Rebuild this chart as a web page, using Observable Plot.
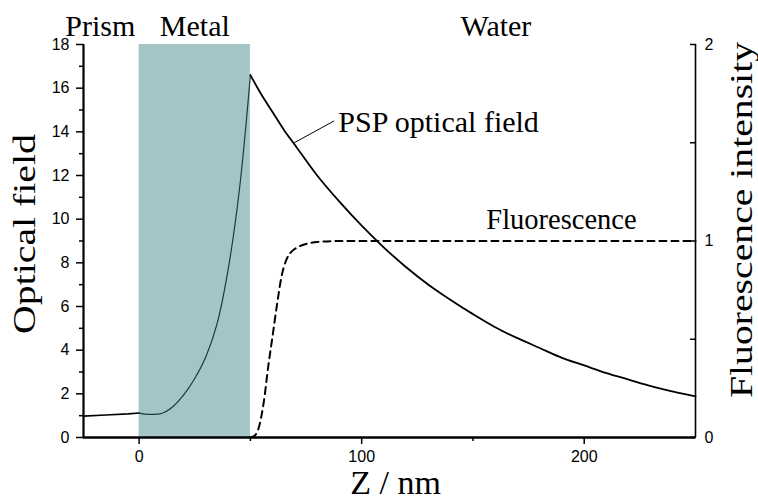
<!DOCTYPE html>
<html>
<head>
<meta charset="utf-8">
<script src="https://cdn.jsdelivr.net/npm/d3@7"></script>
<script src="https://cdn.jsdelivr.net/npm/@observablehq/plot@0.6"></script>
<style>
  html, body { margin: 0; padding: 0; background: #fff; }
  #chart svg { display: block; }
</style>
</head>
<body>
<div id="chart"></div>
<script>
// Optical field (left axis) vs distance Z (nm)
const fieldZ = [-25, -15, -5, 0, 3, 6, 10, 15, 20, 25, 30, 35, 40, 45, 50,
                55, 60, 65, 70, 80, 90, 100, 110, 120, 130, 140, 150, 160, 170, 180, 190, 200, 210, 220, 230, 240, 250];
const fieldV = [0.98, 1.03, 1.08, 1.12, 1.07, 1.06, 1.1, 1.4, 1.95, 2.7, 3.7, 5.2, 7.7, 11.3, 16.6,
                15.7, 14.9, 14.1, 13.4, 12.0, 10.8, 9.7, 8.7, 7.8, 7.0, 6.3, 5.65, 5.05, 4.55, 4.1, 3.65, 3.3, 2.95, 2.65, 2.35, 2.1, 1.88];

// Fluorescence intensity (right axis, 0..2)
const fluoZ = [50, 52, 54, 56, 58, 60, 62, 64, 66, 68, 70, 75, 80, 90, 120, 250];
const fluoV = [0, 0.01, 0.06, 0.18, 0.36, 0.52, 0.68, 0.82, 0.9, 0.94, 0.96, 0.985, 0.995, 1.0, 1.0, 1.0];

// Regions
const metalRange = [0, 50];
const regionNames = ["Prism", "Metal", "Water"];

// Axis ticks
const xTicksMajor = [0, 100, 200];
const xTicksMinor = [50, 150];
const yTicksMajor = [0, 2, 4, 6, 8, 10, 12, 14, 16, 18];
const yTicksMinor = [1, 3, 5, 7, 9, 11, 13, 15, 17];
const rightTicks = [0, 0.5, 1, 1.5, 2];
const rightLabels = [0, 1, 2];
const rightMax = 2, leftMax = 18;
const toLeft = v => v * leftMax / rightMax;

const field = fieldZ.map((z, i) => ({z, v: fieldV[i]}));
const fluo = fluoZ.map((z, i) => ({z, v: fluoV[i]}));

const serif = "'Liberation Serif', 'Times New Roman', serif";

const plot = Plot.plot({
  width: 758,
  height: 501,
  marginLeft: 83,
  marginRight: 63,
  marginTop: 44,
  marginBottom: 64,
  style: {fontFamily: "'Liberation Sans', Arial, sans-serif", fontSize: "16px", background: "#fff", color: "#000"},
  x: {domain: [-25, 250]},
  y: {domain: [0, 18]},
  marks: [
    Plot.rect([metalRange], {x1: d => d[0], x2: d => d[1], y1: 0, y2: 18, fill: "#a4c5c5"}),
    // left axis
    Plot.axisY({ticks: yTicksMajor, tickSize: 7, tickPadding: 7, strokeWidth: 1.5, label: null, fontSize: 16}),
    Plot.axisY({ticks: yTicksMinor, tickSize: 4, strokeWidth: 1.5, label: null, text: null}),
    // bottom axis
    Plot.axisX({ticks: xTicksMajor, tickSize: 7, tickPadding: 6, strokeWidth: 1.5, label: null, fontSize: 16}),
    Plot.axisX({ticks: xTicksMinor, tickSize: 4, strokeWidth: 1.5, label: null, text: null}),
    // right axis (fluorescence), inward ticks
    Plot.axisY({anchor: "right", ticks: rightTicks.map(toLeft), tickSize: -6, tickPadding: 15, strokeWidth: 1.5, label: null,
      tickFormat: d => {
        const r = d * rightMax / leftMax;
        return rightLabels.some(l => Math.abs(l - r) < 1e-9) ? String(Math.round(r)) : "";
      }, fontSize: 16}),
    Plot.ruleX([-25], {stroke: "#000", strokeWidth: 2.2}),
    Plot.ruleX([250], {stroke: "#000", strokeWidth: 1.6}),
    Plot.ruleY([0], {stroke: "#000", strokeWidth: 2.4}),
    // optical field curve
    Plot.line(field.filter(d => d.z <= 0), {x: "z", y: "v", stroke: "#000", strokeWidth: 1.6}),
    Plot.line(field.filter(d => d.z >= 0 && d.z <= 50), {x: "z", y: "v", stroke: "#1e3a3a", strokeWidth: 1.2, curve: "catmull-rom"}),
    Plot.line(field.filter(d => d.z >= 50), {x: "z", y: "v", stroke: "#000", strokeWidth: 1.8, curve: "catmull-rom"}),
    // fluorescence
    Plot.line(fluo, {x: "z", y: d => toLeft(d.v), stroke: "#000", strokeWidth: 2, strokeDasharray: "7,5", curve: "monotone-x"}),
    // leader line
    Plot.link([{x1: 69.7, y1: 13.5, x2: 87.6, y2: 14.5}], {x1: "x1", y1: "y1", x2: "x2", y2: "y2", stroke: "#000", strokeWidth: 1}),
    // annotations
    Plot.text([regionNames[0]], {x: -33.2, y: 18.41, text: d => d, textAnchor: "start", lineAnchor: "bottom", fontFamily: serif, fontSize: 30}),
    Plot.text([regionNames[1]], {x: 9.3, y: 18.41, text: d => d, textAnchor: "start", lineAnchor: "bottom", fontFamily: serif, fontSize: 30}),
    Plot.text([regionNames[2]], {x: 144.4, y: 18.41, text: d => d, textAnchor: "start", lineAnchor: "bottom", fontFamily: serif, fontSize: 30}),
    Plot.text(["PSP optical field"], {x: 89.5, y: 13.97, text: d => d, textAnchor: "start", lineAnchor: "bottom", fontFamily: serif, fontSize: 30}),
    Plot.text(["Fluorescence"], {x: 156, y: 9.57, text: d => d, textAnchor: "start", lineAnchor: "bottom", fontFamily: serif, fontSize: 28.5}),
    // axis titles
    Plot.text(["Optical field"], {frameAnchor: "left", dx: -58, dy: -7, rotate: -90, text: d => d, fontFamily: serif, fontSize: 31, lineAnchor: "middle"}),
    Plot.text(["Fluorescence intensity"], {frameAnchor: "right", dx: 47, dy: -21, rotate: -90, text: d => d, fontFamily: serif, fontSize: 31, lineAnchor: "middle"}),
    Plot.text(["Z / nm"], {frameAnchor: "bottom", dx: 6, dy: 46, text: d => d, fontFamily: serif, fontSize: 34, lineAnchor: "middle"})
  ]
});
document.getElementById("chart").appendChild(plot);

// stretch the rotated axis titles to the reference lengths, keeping them centred
const lengths = {"Optical field": 200, "Fluorescence intensity": 356};
d3.select(plot).selectAll("text").each(function() {
  const t = this.textContent;
  if (lengths[t]) {
    this.setAttribute("text-anchor", "start");
    this.setAttribute("x", -lengths[t] / 2);
    this.setAttribute("textLength", lengths[t]);
    this.setAttribute("lengthAdjust", "spacingAndGlyphs");
  }
});
</script>
</body>
</html>
